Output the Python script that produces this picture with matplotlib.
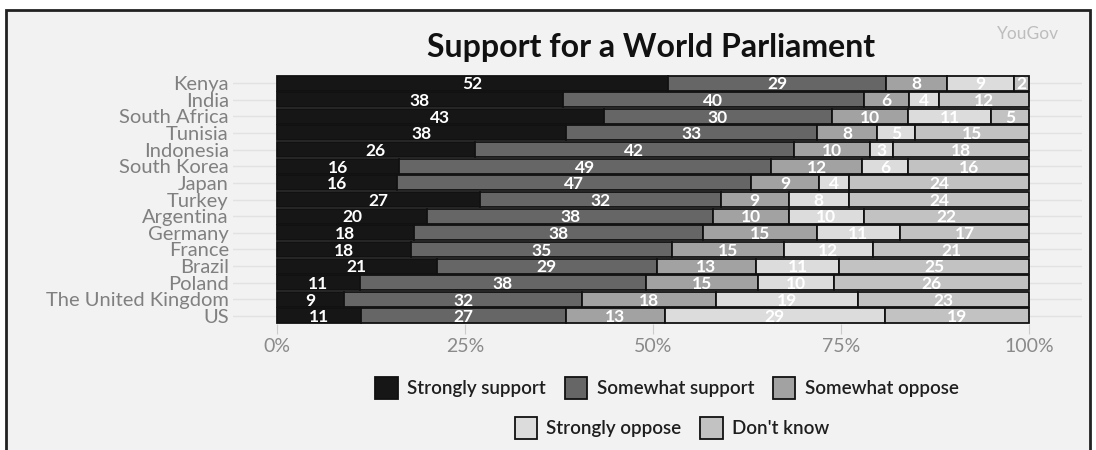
import matplotlib.pyplot as plt
from matplotlib.patches import Rectangle
import numpy as np

countries = ["Kenya", "India", "South Africa", "Tunisia", "Indonesia", "South Korea",
             "Japan", "Turkey", "Argentina", "Germany", "France", "Brazil", "Poland",
             "The United Kingdom", "US"]
strongly_support = [52, 38, 43, 38, 26, 16, 16, 27, 20, 18, 18, 21, 11, 9, 11]
somewhat_support = [29, 40, 30, 33, 42, 49, 47, 32, 38, 38, 35, 29, 38, 32, 27]
somewhat_oppose = [8, 6, 10, 8, 10, 12, 9, 9, 10, 15, 15, 13, 15, 18, 13]
strongly_oppose = [9, 4, 11, 5, 3, 6, 4, 8, 10, 11, 12, 11, 10, 19, 29]
dont_know = [2, 12, 5, 15, 18, 16, 24, 24, 22, 17, 21, 25, 26, 23, 19]

series = [("Strongly support", strongly_support, "#161616"),
          ("Somewhat support", somewhat_support, "#666666"),
          ("Somewhat oppose", somewhat_oppose, "#a2a2a2"),
          ("Strongly oppose", strongly_oppose, "#dcdcdc"),
          ("Don't know", dont_know, "#c2c2c2")]

plt.rcParams['font.family'] = ['Lato', 'DejaVu Sans']

fig = plt.figure(figsize=(10.96, 4.5), dpi=100, facecolor="white")
# grey panel with a dark frame
fig.patches.append(Rectangle((6 / 1096, -0.05), 1084 / 1096, 1 - 10 / 450 + 0.05,
                             transform=fig.transFigure, facecolor="#f2f2f2",
                             edgecolor="#222222", linewidth=2, zorder=-10))

ax = fig.add_axes([233 / 1096, 1 - 324.3 / 450, (1082 - 233) / 1096, 249.6 / 450])
ax.set_facecolor("none")

y = np.arange(len(countries))
totals = np.sum([s[1] for s in series], axis=0)
left = np.zeros(len(countries))
handles = []
for name, vals, color in series:
    vals = np.array(vals)
    width = vals / totals * 100
    bars = ax.barh(y, width, left=left, height=0.9, color=color, edgecolor="#111111",
                   linewidth=1.3, label=name, zorder=3)
    handles.append(bars)
    for yi, l, w, v in zip(y, left, width, vals):
        ax.text(l + w / 2, yi + 0.08, str(v), ha="center", va="center", color="white",
                fontsize=12.5, fontweight="bold", zorder=4)
    left = left + width

ax.set_xlim(-5.85, 107)
ax.set_ylim(len(countries) - 0.5, -0.5)
ax.set_yticks(y)
ax.set_yticklabels(countries, fontsize=14.5, color="#808080")
ax.set_xticks([0, 25, 50, 75, 100])
ax.set_xticklabels(["0%", "25%", "50%", "75%", "100%"], fontsize=14, color="#8a8a8a")
ax.tick_params(axis="y", length=0, pad=3)
ax.tick_params(axis="x", length=7, color="#cccccc", pad=3)
for s in ax.spines.values():
    s.set_visible(False)
for yi in y:
    ax.axhline(yi, color="#e2e2e2", linewidth=1, zorder=1)

fig.text(651 / 1096, 1 - 47 / 450, "Support for a World Parliament", ha="center", va="center",
         fontsize=23, fontweight="bold", color="#111111")
fig.text(1028 / 1096, 1 - 34 / 450, "YouGov", ha="center", va="center", fontsize=12.5,
         color="#bdbdbd")

leg_kw = dict(frameon=False, prop=dict(size=13.5, weight="semibold"), handlelength=1.2,
              handleheight=1.5, columnspacing=1.0, handletextpad=0.5, labelcolor="#1e1e1e")
fig.legend(handles[:3], [s[0] for s in series[:3]], ncol=3, loc="center",
           bbox_to_anchor=(667 / 1096, 1 - 388 / 450), **leg_kw)
fig.legend(handles[3:], [s[0] for s in series[3:]], ncol=2, loc="center",
           bbox_to_anchor=(672 / 1096, 1 - 428 / 450), **leg_kw)

fig.savefig("out.png", dpi=100, facecolor=fig.get_facecolor())
